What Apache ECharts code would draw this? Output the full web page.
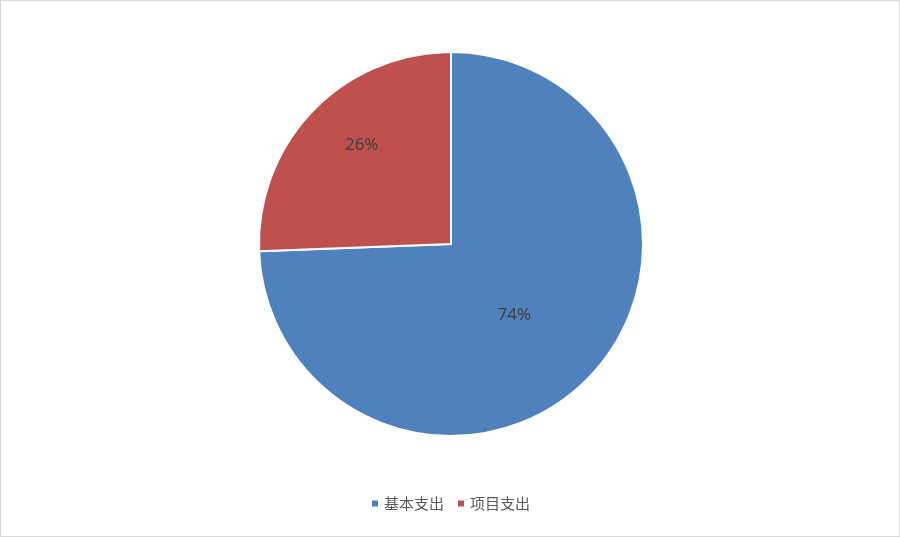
<!DOCTYPE html>
<html lang="zh">
<head>
    <meta charset="UTF-8">
    <title>支出构成</title>
    <style>
        html, body { margin: 0; padding: 0; background: #fff; }
        #main { width: 898px; height: 535px; border: 1px solid #d9d9d9; }
    </style>
</head>
<body>
<div id="main"></div>
<script src="https://cdn.jsdelivr.net/npm/echarts@6/dist/echarts.min.js"></script>
<script type="text/javascript">
    // 数据（百分比，图上标注为 74% / 26%）
    var categories = ["基本支出", "项目支出"];
    var values = [74.4, 25.6];
    var colors = ["#4F81BD", "#C0504D"];

    var myChart = echarts.init(document.getElementById("main"));

    var pieData = categories.map(function (name, i) {
        return { name: name, value: values[i], itemStyle: { color: colors[i] } };
    });

    var option = {
        animation: false,
        legend: {
            bottom: 20,
            left: "center",
            itemWidth: 8,
            itemHeight: 8,
            itemGap: 12,
            icon: "rect",
            textStyle: {
                color: "#595959",
                fontSize: 15,
                fontFamily: "Noto Sans CJK SC"
            },
            data: categories
        },
        series: [{
            type: "pie",
            center: [450, 243],
            radius: 192,
            startAngle: 90,
            clockwise: true,
            percentPrecision: 0,
            itemStyle: { borderColor: "#fff", borderWidth: 2 },
            label: {
                show: true,
                position: "inside",
                formatter: "{d}%",
                color: "#404040",
                fontSize: 17,
                fontFamily: "Noto Sans"
            },
            labelLine: { show: false },
            // 标签位置微调
            labelLayout: function (params) {
                if (params.dataIndex === 1) {
                    return { dx: -18, dy: -30 };
                }
                return { dx: -8, dy: 2 };
            },
            data: pieData
        }]
    };

    myChart.setOption(option);
</script>
</body>
</html>
